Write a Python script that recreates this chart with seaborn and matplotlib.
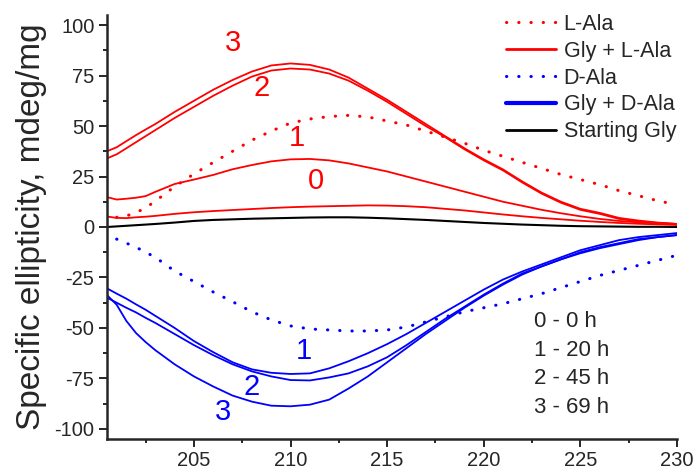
import matplotlib
matplotlib.use("Agg")
import numpy as np
import pandas as pd
import seaborn as sns
import matplotlib.pyplot as plt
from matplotlib.lines import Line2D
from matplotlib.ticker import MultipleLocator

# wavelength grid (nm)
wl = [200.5, 201, 201.5, 202, 202.5, 203, 204, 205, 206, 207, 208, 209, 210, 211, 212, 213, 214,
      215, 216, 217, 218, 219, 220, 221, 222, 223, 224, 225, 226, 227, 228, 229, 230]

# Gly + L-Ala, runs 0..3
gly_l_0 = [5.2, 4.5, 4.4, 4.8, 5.1, 5.5, 6.5, 7.3, 7.9, 8.4, 8.9, 9.4, 9.8, 10.1, 10.3, 10.5, 10.7,
           10.6, 10.3, 9.8, 9, 8.2, 7.2, 6.2, 5.3, 4.5, 3.8, 3.1, 2.5, 2, 1.6, 1.3, 1]
gly_l_1 = [14.8, 13.6, 14, 14.5, 15.3, 17.4, 21.3, 23.5, 25.8, 28.6, 30.7, 32.5, 33.5, 33.7, 33, 31.5, 29.5,
           27.5, 25, 22.5, 20, 17.5, 15, 12.5, 10.5, 8.5, 6.8, 5.3, 4, 3, 2.3, 1.8, 1.5]
gly_l_2 = [34, 36, 39, 42, 45, 48, 54, 59.5, 65, 70, 74.5, 77.5, 78.5, 78, 76, 72.5, 67.5,
           62, 56, 50, 44.5, 38.5, 33, 28, 22, 16.5, 12, 8.5, 6.5, 4, 2.8, 2, 1.5]
gly_l_3 = [37.5, 39.5, 42.5, 45.5, 48.3, 51, 57, 62.5, 68, 72.8, 77, 80, 81, 80.3, 78, 74, 68.5,
           63, 57, 51, 45, 39, 33.5, 28.5, 22.5, 17, 12.5, 9, 7, 4.5, 3.2, 2.2, 1.5]

# L-Ala alone (dotted)
l_ala = [np.nan, 4.8, 5.5, 7.1, 9.5, 12.8, 20, 26.3, 32, 37.5, 43, 47.5, 51.5, 53.5, 54.7, 55.3, 54.5,
         52.5, 50.5, 47.5, 44.5, 41.5, 38, 35, 32, 29, 26, 23.5, 21, 18, 15.5, 13, 11]

# D-Ala alone (dotted)
d_ala = [np.nan, -6, -8, -10, -12.5, -15, -21.8, -27, -32.2, -37, -42, -46, -49, -50.5, -51, -51.5, -51.5,
         -51, -49.5, -47, -44.5, -42, -40, -38, -35.5, -33, -30, -27, -24, -21.5, -19, -16.5, -14]

# Gly + D-Ala, runs 1..3
gly_d_1 = [-30.4, -33, -35.5, -38.3, -41, -44, -50, -56.5, -62, -67, -70.5, -72.2, -72.8, -72.5, -70, -66.5, -62.5,
           -58, -53, -47.5, -42, -36.5, -31, -26, -22, -18.5, -15, -11.5, -9, -6.5, -5, -4, -3]
gly_d_2 = [-35, -37.5, -40, -42.3, -45, -47.5, -53, -58.5, -63.5, -68, -71.5, -74, -75.8, -76, -74.5, -72.5, -69,
           -64.5, -58.5, -52, -45.5, -39.5, -33.5, -28, -23, -19.5, -16, -12.5, -10, -8, -6, -5, -4]
gly_d_3 = [-33.7, -38.5, -46.5, -52.5, -57, -61, -68, -74, -79, -83.5, -86.5, -88.5, -88.8, -88, -85.5, -80, -74,
           -67, -60, -53, -46.5, -40, -34, -28.5, -23.5, -19.5, -16, -13, -10.5, -8.5, -6.5, -5, -4]

# starting Gly
start_gly = [0, 0.3, 0.6, 0.9, 1.2, 1.5, 2.2, 3, 3.5, 3.8, 4.1, 4.3, 4.5, 4.7, 4.8, 4.8, 4.6,
             4.3, 3.9, 3.5, 3, 2.5, 2, 1.6, 1.2, 0.9, 0.6, 0.4, 0.3, 0.2, 0.1, 0.1, 0]

legend_labels = ["L-Ala", "Gly + L-Ala", "D-Ala", "Gly + D-Ala", "Starting Gly"]
time_labels = ["0 - 0 h", "1 - 20 h", "2 - 45 h", "3 - 69 h"]

RED = "#ff0000"
BLUE = "#0000ff"
DOT = (0, (0.1, 3.9))

sns.set_style("ticks")
plt.rcParams["font.family"] = ["Liberation Sans", "DejaVu Sans"]
plt.rcParams["axes.unicode_minus"] = False

fig = plt.figure(figsize=(6.98, 4.76), dpi=100)
ax = fig.add_axes([107 / 698, 37 / 476, 570 / 698, 424 / 476])

curves = [
    (l_ala, RED, DOT, 2.2),
    (d_ala, BLUE, DOT, 2.2),
    (start_gly, "black", "-", 1.5),
    (gly_l_0, RED, "-", 1.3),
    (gly_l_1, RED, "-", 1.3),
    (gly_l_2, RED, "-", 1.3),
    (gly_l_3, RED, "-", 1.3),
    (gly_d_1, BLUE, "-", 1.3),
    (gly_d_2, BLUE, "-", 1.3),
    (gly_d_3, BLUE, "-", 1.3),
]
for vals, col, ls, lw in curves:
    df = pd.DataFrame({"wl": wl, "v": vals}).dropna()
    sns.lineplot(data=df, x="wl", y="v", ax=ax, color=col, linestyle=ls,
                 linewidth=lw, legend=False, solid_capstyle="round",
                 dash_capstyle="round")

# run numbers
red_nums = [("3", 207.0, 91.2), ("2", 208.5, 68.7), ("1", 210.3, 43.9), ("0", 211.3, 22.8)]
blue_nums = [("1", 210.7, -61.4), ("2", 208.0, -79.0), ("3", 206.5, -91.4)]
for t, x, y in red_nums:
    ax.text(x, y, t, color=RED, fontsize=21, ha="center", va="center")
for t, x, y in blue_nums:
    ax.text(x, y, t, color=BLUE, fontsize=21, ha="center", va="center")

for i, t in enumerate(time_labels):
    ax.text(222.6, -46.9 - i * 14.1, t, fontsize=16, ha="left", va="center")

ax.set_xlim(200.5, 230)
ax.set_ylim(-105, 105)
ax.xaxis.set_minor_locator(MultipleLocator(2.5))
ax.yaxis.set_major_locator(MultipleLocator(25))
ax.yaxis.set_minor_locator(MultipleLocator(12.5))
ax.set_xticks([205, 210, 215, 220, 225, 230])
ax.tick_params(which="major", length=6, width=1.4, labelsize=14.5, direction="out", pad=3)
ax.tick_params(which="minor", length=3, width=1.4, direction="out")
sns.despine(ax=ax)
for s in ["left", "bottom"]:
    ax.spines[s].set_linewidth(1.8)

ax.set_xlabel("")
ax.set_ylabel("Specific ellipticity, mdeg/mg", fontsize=24)
ax.yaxis.set_label_coords(-0.105, 0.5)

handles = [
    Line2D([], [], color=RED, linestyle=DOT, linewidth=2.2, dash_capstyle="round"),
    Line2D([], [], color=RED, linewidth=2.0),
    Line2D([], [], color=BLUE, linestyle=DOT, linewidth=2.2, dash_capstyle="round"),
    Line2D([], [], color=BLUE, linewidth=3.0),
    Line2D([], [], color="black", linewidth=2.0),
]
fig.legend(handles, legend_labels, loc="upper right", bbox_to_anchor=(676 / 698, 1 - 14 / 476),
           frameon=False, fontsize=15.5, handlelength=2.3, handletextpad=0.35,
           labelspacing=0.27, borderpad=0, borderaxespad=0)

fig.savefig("out.png", dpi=100)
